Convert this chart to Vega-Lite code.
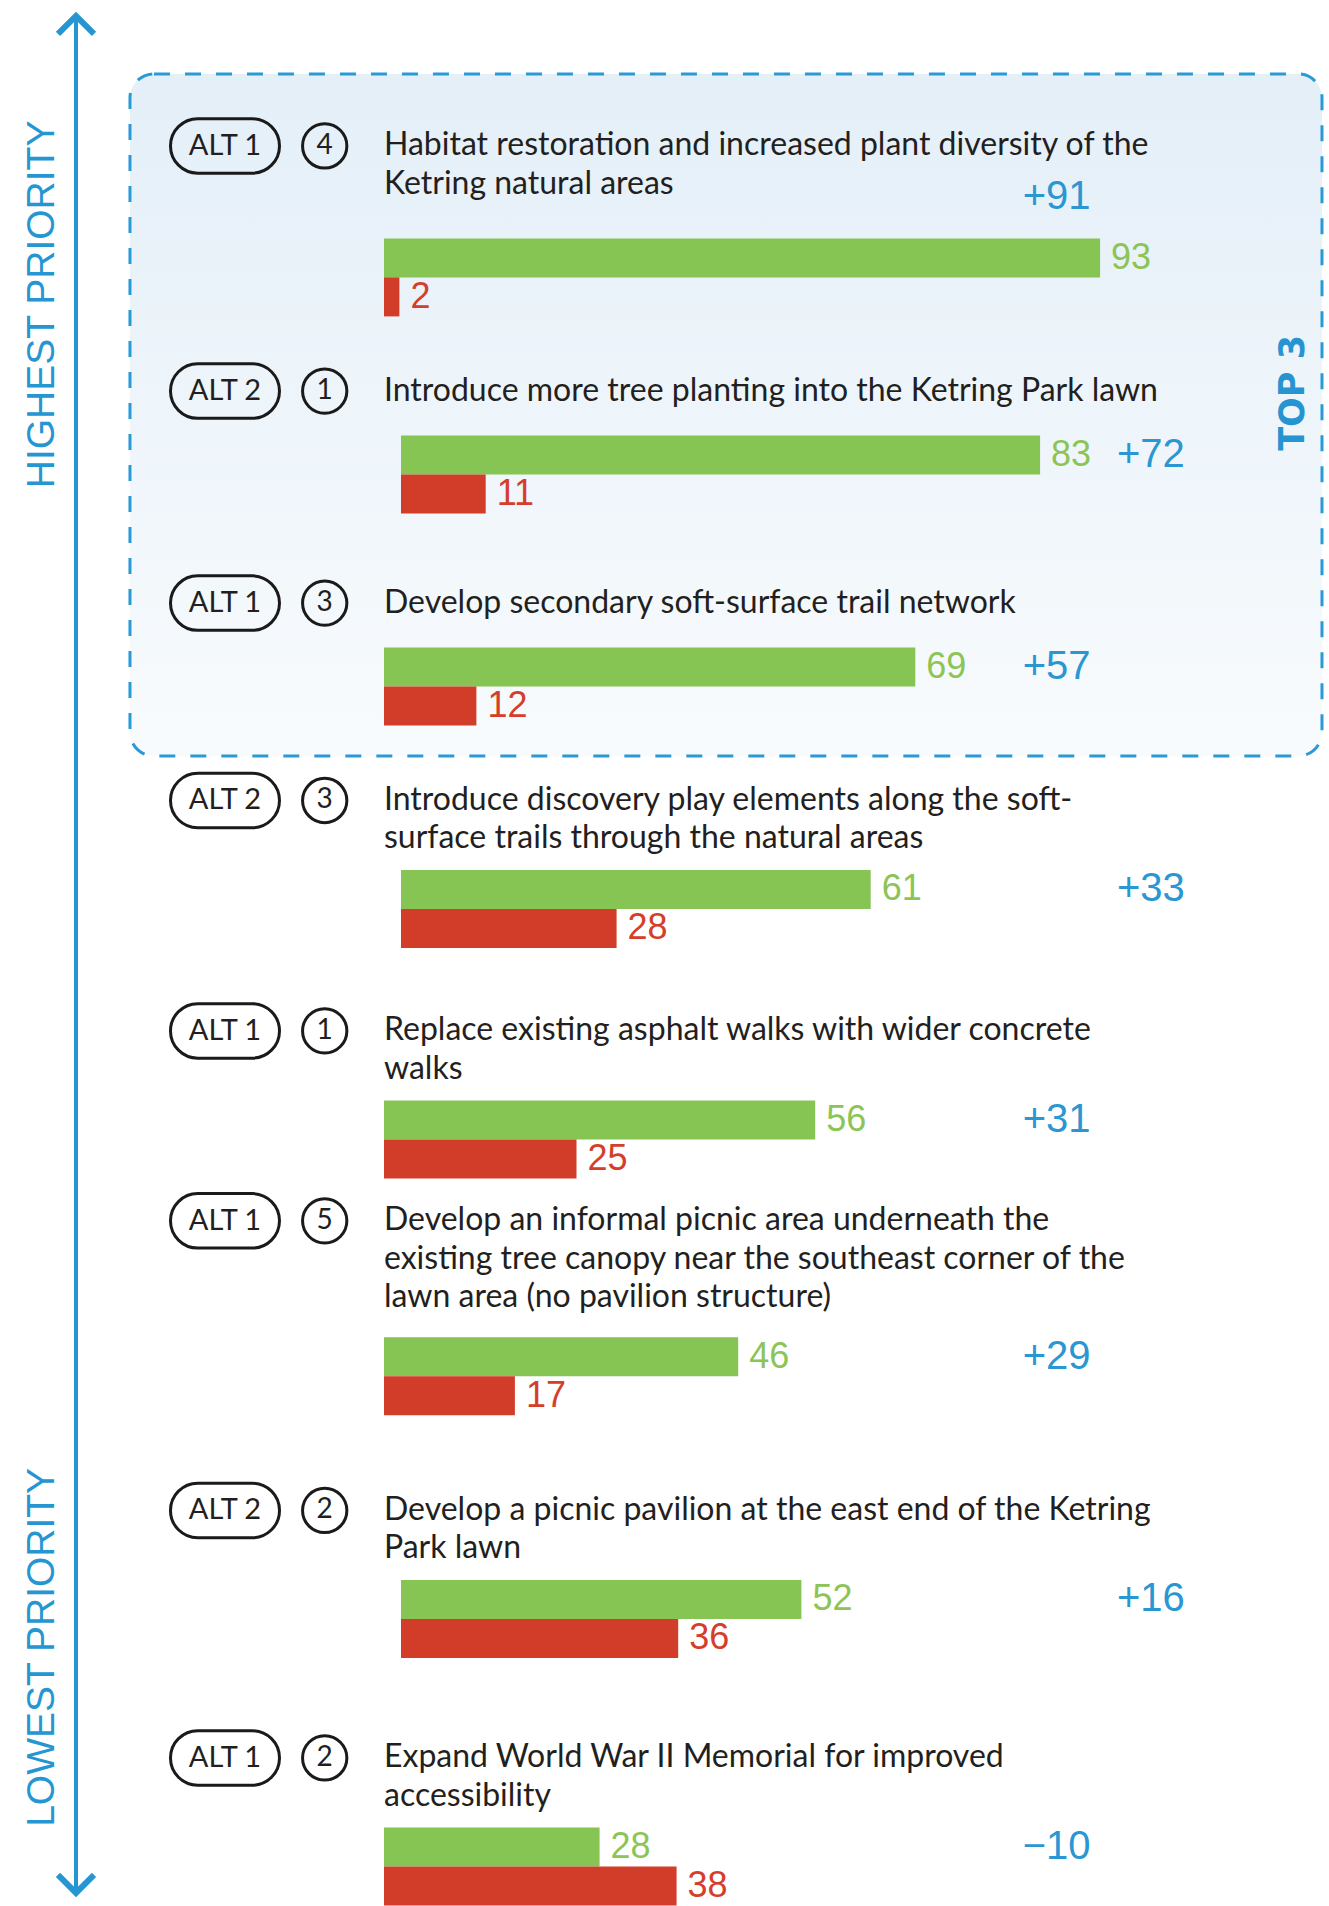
{
  "$schema": "https://vega.github.io/schema/vega-lite/v6.json",
  "width": 1329,
  "height": 1906,
  "autosize": {"type": "fit", "contains": "padding"},
  "padding": 0,
  "background": "#ffffff",
  "config": {"view": {"stroke": null}},
  "data": {
    "values": [
      {"rank": 1, "alt": "ALT 1", "num": 4, "title": ["Habitat restoration and increased plant diversity of the", "Ketring natural areas"], "support": 93, "oppose": 2, "net": 91},
      {"rank": 2, "alt": "ALT 2", "num": 1, "title": ["Introduce more tree planting into the Ketring Park lawn"], "support": 83, "oppose": 11, "net": 72},
      {"rank": 3, "alt": "ALT 1", "num": 3, "title": ["Develop secondary soft-surface trail network"], "support": 69, "oppose": 12, "net": 57},
      {"rank": 4, "alt": "ALT 2", "num": 3, "title": ["Introduce discovery play elements along the soft-", "surface trails through the natural areas"], "support": 61, "oppose": 28, "net": 33},
      {"rank": 5, "alt": "ALT 1", "num": 1, "title": ["Replace existing asphalt walks with wider concrete", "walks"], "support": 56, "oppose": 25, "net": 31},
      {"rank": 6, "alt": "ALT 1", "num": 5, "title": ["Develop an informal picnic area underneath the", "existing tree canopy near the southeast corner of the", "lawn area (no pavilion structure)"], "support": 46, "oppose": 17, "net": 29},
      {"rank": 7, "alt": "ALT 2", "num": 2, "title": ["Develop a picnic pavilion at the east end of the Ketring", "Park lawn"], "support": 52, "oppose": 36, "net": 16},
      {"rank": 8, "alt": "ALT 1", "num": 2, "title": ["Expand World War II Memorial for improved", "accessibility"], "support": 28, "oppose": 38, "net": -10}
    ]
  },
  "layer": [
    {
      "transform": [
        {"filter": "datum.rank <= 3"},
        {"aggregate": [{"op": "min", "field": "rank", "as": "first"}, {"op": "max", "field": "rank", "as": "last"}]}
      ],
      "mark": {
        "type": "rect",
        "fill": {"gradient": "linear", "x1": 0, "y1": 0, "x2": 0, "y2": 1, "stops": [{"offset": 0, "color": "#e4eff8"}, {"offset": 1, "color": "#f8fbfd"}]},
        "stroke": "#2a9ad6", "strokeWidth": 3, "strokeDash": [16, 15], "cornerRadius": 24,
        "yOffset": -184, "y2Offset": 89
      },
      "encoding": {
        "x": {"datum": -32.99, "type": "quantitative", "scale": {"domain": [-49.87, 122.73], "nice": false, "zero": false}, "axis": null},
        "x2": {"datum": 121.82},
        "y": {"field": "first", "type": "quantitative", "scale": {"type": "pow", "exponent": 1.14, "domain": [-0.5866, 8.216], "reverse": true, "nice": false, "zero": false}, "axis": null},
        "y2": {"field": "last"}
      }
    },
    {
      "data": {"values": [{"label": "TOP 3"}]},
      "mark": {"type": "text", "angle": 270, "font": "DejaVu Sans", "fontWeight": "bold", "fontSize": 35, "color": "#2694d0", "align": "center", "baseline": "middle"},
      "encoding": {
        "x": {"datum": 118.05, "type": "quantitative", "scale": {"domain": [-49.87, 122.73], "nice": false, "zero": false}, "axis": null},
        "y": {"datum": 1.6944, "type": "quantitative", "scale": {"type": "pow", "exponent": 1.14, "domain": [-0.5866, 8.216], "reverse": true, "nice": false, "zero": false}, "axis": null},
        "text": {"field": "label"}
      }
    },
    {
      "data": {"values": [{"axis": "priority"}]},
      "mark": {"type": "rule", "color": "#2696d3", "strokeWidth": 4},
      "encoding": {
        "x": {"datum": -40.0, "type": "quantitative", "scale": {"domain": [-49.87, 122.73], "nice": false, "zero": false}, "axis": null},
        "y": {"datum": -0.5345, "type": "quantitative", "scale": {"type": "pow", "exponent": 1.14, "domain": [-0.5866, 8.216], "reverse": true, "nice": false, "zero": false}, "axis": null},
        "y2": {"datum": 8.1915}
      }
    },
    {
      "data": {"values": [{"end": "highest"}]},
      "mark": {"type": "point", "shape": "M -1 0.7 L 0 -0.3 L 1 0.7", "size": 1296, "filled": false, "stroke": "#2696d3", "strokeWidth": 6, "strokeJoin": "miter", "opacity": 1},
      "encoding": {
        "x": {"datum": -40.0, "type": "quantitative", "scale": {"domain": [-49.87, 122.73], "nice": false, "zero": false}, "axis": null},
        "y": {"datum": -0.4914, "type": "quantitative", "scale": {"type": "pow", "exponent": 1.14, "domain": [-0.5866, 8.216], "reverse": true, "nice": false, "zero": false}, "axis": null}
      }
    },
    {
      "data": {"values": [{"end": "lowest"}]},
      "mark": {"type": "point", "shape": "M -1 -0.7 L 0 0.3 L 1 -0.7", "size": 1296, "filled": false, "stroke": "#2696d3", "strokeWidth": 6, "strokeJoin": "miter", "opacity": 1},
      "encoding": {
        "x": {"datum": -40.0, "type": "quantitative", "scale": {"domain": [-49.87, 122.73], "nice": false, "zero": false}, "axis": null},
        "y": {"datum": 8.1622, "type": "quantitative", "scale": {"type": "pow", "exponent": 1.14, "domain": [-0.5866, 8.216], "reverse": true, "nice": false, "zero": false}, "axis": null}
      }
    },
    {
      "data": {"values": [{"label": "HIGHEST PRIORITY"}]},
      "mark": {"type": "text", "angle": 270, "font": "Liberation Sans", "fontSize": 39, "color": "#2696d3", "align": "center", "baseline": "middle"},
      "encoding": {
        "x": {"datum": -44.4, "type": "quantitative", "scale": {"domain": [-49.87, 122.73], "nice": false, "zero": false}, "axis": null},
        "y": {"datum": 1.2451, "type": "quantitative", "scale": {"type": "pow", "exponent": 1.14, "domain": [-0.5866, 8.216], "reverse": true, "nice": false, "zero": false}, "axis": null},
        "text": {"field": "label"}
      }
    },
    {
      "data": {"values": [{"label": "LOWEST PRIORITY"}]},
      "mark": {"type": "text", "angle": 270, "font": "Liberation Sans", "fontSize": 39, "color": "#2696d3", "align": "center", "baseline": "middle"},
      "encoding": {
        "x": {"datum": -44.4, "type": "quantitative", "scale": {"domain": [-49.87, 122.73], "nice": false, "zero": false}, "axis": null},
        "y": {"datum": 7.1951, "type": "quantitative", "scale": {"type": "pow", "exponent": 1.14, "domain": [-0.5866, 8.216], "reverse": true, "nice": false, "zero": false}, "axis": null},
        "text": {"field": "label"}
      }
    },
    {
      "transform": [{"filter": "datum.alt == 'ALT 1' && datum.support >= 85"}],
      "encoding": {"y": {"field": "rank", "type": "quantitative", "scale": {"type": "pow", "exponent": 1.14, "domain": [-0.5866, 8.216], "reverse": true, "nice": false, "zero": false}, "axis": null}},
      "layer": [
        {"mark": {"type": "point", "shape": "M -0.5 -0.5 L 0.5 -0.5 A 0.5 0.5 0 0 1 0.5 0.5 L -0.5 0.5 A 0.5 0.5 0 0 1 -0.5 -0.5 Z", "size": 11881, "filled": false, "stroke": "#1a1a1a", "strokeWidth": 3, "opacity": 1, "yOffset": -112},
         "encoding": {"x": {"datum": -20.65, "type": "quantitative", "scale": {"domain": [-49.87, 122.73], "nice": false, "zero": false}, "axis": null}}},
        {"mark": {"type": "text", "font": "Lato", "fontSize": 29, "color": "#231f20", "align": "center", "baseline": "middle", "yOffset": -112},
         "encoding": {"x": {"datum": -20.65, "type": "quantitative", "scale": {"domain": [-49.87, 122.73], "nice": false, "zero": false}, "axis": null}, "text": {"field": "alt"}}},
        {"mark": {"type": "point", "shape": "circle", "size": 1963, "filled": false, "stroke": "#1a1a1a", "strokeWidth": 3, "opacity": 1, "yOffset": -112},
         "encoding": {"x": {"datum": -7.7, "type": "quantitative", "scale": {"domain": [-49.87, 122.73], "nice": false, "zero": false}, "axis": null}}},
        {"mark": {"type": "text", "font": "Lato", "fontSize": 28, "color": "#231f20", "align": "center", "baseline": "middle", "yOffset": -112},
         "encoding": {"x": {"datum": -7.7, "type": "quantitative", "scale": {"domain": [-49.87, 122.73], "nice": false, "zero": false}, "axis": null}, "text": {"field": "num"}}},
        {"mark": {"type": "text", "font": "Lato", "fontSize": 32, "lineHeight": 38.3, "color": "#231f20", "align": "left", "baseline": "top", "yOffset": -127.5},
         "encoding": {"x": {"datum": 0, "type": "quantitative", "scale": {"domain": [-49.87, 122.73], "nice": false, "zero": false}, "axis": null}, "text": {"field": "title"}}}
      ]
    },
    {
      "transform": [{"filter": "length(datum.title) == 1 && !(datum.alt == 'ALT 1' && datum.support >= 85)"}],
      "encoding": {"y": {"field": "rank", "type": "quantitative", "scale": {"type": "pow", "exponent": 1.14, "domain": [-0.5866, 8.216], "reverse": true, "nice": false, "zero": false}, "axis": null}},
      "layer": [
        {"mark": {"type": "point", "shape": "M -0.5 -0.5 L 0.5 -0.5 A 0.5 0.5 0 0 1 0.5 0.5 L -0.5 0.5 A 0.5 0.5 0 0 1 -0.5 -0.5 Z", "size": 11881, "filled": false, "stroke": "#1a1a1a", "strokeWidth": 3, "opacity": 1, "yOffset": -64},
         "encoding": {"x": {"datum": -20.65, "type": "quantitative", "scale": {"domain": [-49.87, 122.73], "nice": false, "zero": false}, "axis": null}}},
        {"mark": {"type": "text", "font": "Lato", "fontSize": 29, "color": "#231f20", "align": "center", "baseline": "middle", "yOffset": -64},
         "encoding": {"x": {"datum": -20.65, "type": "quantitative", "scale": {"domain": [-49.87, 122.73], "nice": false, "zero": false}, "axis": null}, "text": {"field": "alt"}}},
        {"mark": {"type": "point", "shape": "circle", "size": 1963, "filled": false, "stroke": "#1a1a1a", "strokeWidth": 3, "opacity": 1, "yOffset": -64},
         "encoding": {"x": {"datum": -7.7, "type": "quantitative", "scale": {"domain": [-49.87, 122.73], "nice": false, "zero": false}, "axis": null}}},
        {"mark": {"type": "text", "font": "Lato", "fontSize": 28, "color": "#231f20", "align": "center", "baseline": "middle", "yOffset": -64},
         "encoding": {"x": {"datum": -7.7, "type": "quantitative", "scale": {"domain": [-49.87, 122.73], "nice": false, "zero": false}, "axis": null}, "text": {"field": "num"}}},
        {"mark": {"type": "text", "font": "Lato", "fontSize": 32, "lineHeight": 38.3, "color": "#231f20", "align": "left", "baseline": "top", "yOffset": -79.5},
         "encoding": {"x": {"datum": 0, "type": "quantitative", "scale": {"domain": [-49.87, 122.73], "nice": false, "zero": false}, "axis": null}, "text": {"field": "title"}}}
      ]
    },
    {
      "transform": [{"filter": "length(datum.title) == 2 && !(datum.alt == 'ALT 1' && datum.support >= 85)"}],
      "encoding": {"y": {"field": "rank", "type": "quantitative", "scale": {"type": "pow", "exponent": 1.14, "domain": [-0.5866, 8.216], "reverse": true, "nice": false, "zero": false}, "axis": null}},
      "layer": [
        {"mark": {"type": "point", "shape": "M -0.5 -0.5 L 0.5 -0.5 A 0.5 0.5 0 0 1 0.5 0.5 L -0.5 0.5 A 0.5 0.5 0 0 1 -0.5 -0.5 Z", "size": 11881, "filled": false, "stroke": "#1a1a1a", "strokeWidth": 3, "opacity": 1, "yOffset": -89},
         "encoding": {"x": {"datum": -20.65, "type": "quantitative", "scale": {"domain": [-49.87, 122.73], "nice": false, "zero": false}, "axis": null}}},
        {"mark": {"type": "text", "font": "Lato", "fontSize": 29, "color": "#231f20", "align": "center", "baseline": "middle", "yOffset": -89},
         "encoding": {"x": {"datum": -20.65, "type": "quantitative", "scale": {"domain": [-49.87, 122.73], "nice": false, "zero": false}, "axis": null}, "text": {"field": "alt"}}},
        {"mark": {"type": "point", "shape": "circle", "size": 1963, "filled": false, "stroke": "#1a1a1a", "strokeWidth": 3, "opacity": 1, "yOffset": -89},
         "encoding": {"x": {"datum": -7.7, "type": "quantitative", "scale": {"domain": [-49.87, 122.73], "nice": false, "zero": false}, "axis": null}}},
        {"mark": {"type": "text", "font": "Lato", "fontSize": 28, "color": "#231f20", "align": "center", "baseline": "middle", "yOffset": -89},
         "encoding": {"x": {"datum": -7.7, "type": "quantitative", "scale": {"domain": [-49.87, 122.73], "nice": false, "zero": false}, "axis": null}, "text": {"field": "num"}}},
        {"mark": {"type": "text", "font": "Lato", "fontSize": 32, "lineHeight": 38.3, "color": "#231f20", "align": "left", "baseline": "top", "yOffset": -104.5},
         "encoding": {"x": {"datum": 0, "type": "quantitative", "scale": {"domain": [-49.87, 122.73], "nice": false, "zero": false}, "axis": null}, "text": {"field": "title"}}}
      ]
    },
    {
      "transform": [{"filter": "length(datum.title) == 3 && !(datum.alt == 'ALT 1' && datum.support >= 85)"}],
      "encoding": {"y": {"field": "rank", "type": "quantitative", "scale": {"type": "pow", "exponent": 1.14, "domain": [-0.5866, 8.216], "reverse": true, "nice": false, "zero": false}, "axis": null}},
      "layer": [
        {"mark": {"type": "point", "shape": "M -0.5 -0.5 L 0.5 -0.5 A 0.5 0.5 0 0 1 0.5 0.5 L -0.5 0.5 A 0.5 0.5 0 0 1 -0.5 -0.5 Z", "size": 11881, "filled": false, "stroke": "#1a1a1a", "strokeWidth": 3, "opacity": 1, "yOffset": -136},
         "encoding": {"x": {"datum": -20.65, "type": "quantitative", "scale": {"domain": [-49.87, 122.73], "nice": false, "zero": false}, "axis": null}}},
        {"mark": {"type": "text", "font": "Lato", "fontSize": 29, "color": "#231f20", "align": "center", "baseline": "middle", "yOffset": -136},
         "encoding": {"x": {"datum": -20.65, "type": "quantitative", "scale": {"domain": [-49.87, 122.73], "nice": false, "zero": false}, "axis": null}, "text": {"field": "alt"}}},
        {"mark": {"type": "point", "shape": "circle", "size": 1963, "filled": false, "stroke": "#1a1a1a", "strokeWidth": 3, "opacity": 1, "yOffset": -136},
         "encoding": {"x": {"datum": -7.7, "type": "quantitative", "scale": {"domain": [-49.87, 122.73], "nice": false, "zero": false}, "axis": null}}},
        {"mark": {"type": "text", "font": "Lato", "fontSize": 28, "color": "#231f20", "align": "center", "baseline": "middle", "yOffset": -136},
         "encoding": {"x": {"datum": -7.7, "type": "quantitative", "scale": {"domain": [-49.87, 122.73], "nice": false, "zero": false}, "axis": null}, "text": {"field": "num"}}},
        {"mark": {"type": "text", "font": "Lato", "fontSize": 32, "lineHeight": 38.3, "color": "#231f20", "align": "left", "baseline": "top", "yOffset": -151.5},
         "encoding": {"x": {"datum": 0, "type": "quantitative", "scale": {"domain": [-49.87, 122.73], "nice": false, "zero": false}, "axis": null}, "text": {"field": "title"}}}
      ]
    },
    {
      "transform": [{"filter": "datum.alt == 'ALT 1'"}],
      "encoding": {"y": {"field": "rank", "type": "quantitative", "scale": {"type": "pow", "exponent": 1.14, "domain": [-0.5866, 8.216], "reverse": true, "nice": false, "zero": false}, "axis": null}},
      "layer": [
        {
          "mark": {"type": "bar", "orient": "horizontal", "height": 39, "color": "#86c453"},
          "encoding": {"x": {"field": "support", "type": "quantitative", "scale": {"domain": [-49.87, 122.73], "nice": false, "zero": false}, "axis": null}}
        },
        {
          "mark": {"type": "bar", "orient": "horizontal", "height": 39, "color": "#d13d28", "yOffset": 39},
          "encoding": {"x": {"field": "oppose", "type": "quantitative", "scale": {"domain": [-49.87, 122.73], "nice": false, "zero": false}, "axis": null}}
        },
        {
          "mark": {"type": "text", "align": "left", "baseline": "middle", "dx": 11, "font": "Liberation Sans", "fontSize": 36, "color": "#8cc456"},
          "encoding": {"x": {"field": "support", "type": "quantitative", "scale": {"domain": [-49.87, 122.73], "nice": false, "zero": false}, "axis": null}, "text": {"field": "support", "type": "quantitative"}}
        },
        {
          "mark": {"type": "text", "align": "left", "baseline": "middle", "dx": 11, "font": "Liberation Sans", "fontSize": 36, "color": "#d43e2a", "yOffset": 39},
          "encoding": {"x": {"field": "oppose", "type": "quantitative", "scale": {"domain": [-49.87, 122.73], "nice": false, "zero": false}, "axis": null}, "text": {"field": "oppose", "type": "quantitative"}}
        },
        {
          "transform": [{"filter": "datum.support < 85"}],
          "mark": {"type": "text", "align": "center", "baseline": "middle", "font": "Liberation Sans", "fontSize": 40, "color": "#2a96d2"},
          "encoding": {"x": {"datum": 87.36, "type": "quantitative", "scale": {"domain": [-49.87, 122.73], "nice": false, "zero": false}, "axis": null}, "text": {"field": "net", "type": "quantitative", "format": "+d"}}
        },
        {
          "transform": [{"filter": "datum.support >= 85"}],
          "mark": {"type": "text", "align": "center", "baseline": "middle", "font": "Liberation Sans", "fontSize": 40, "color": "#2a96d2", "yOffset": -61},
          "encoding": {"x": {"datum": 87.36, "type": "quantitative", "scale": {"domain": [-49.87, 122.73], "nice": false, "zero": false}, "axis": null}, "text": {"field": "net", "type": "quantitative", "format": "+d"}}
        }
      ]
    },
    {
      "transform": [{"filter": "datum.alt == 'ALT 2'"}],
      "encoding": {"y": {"field": "rank", "type": "quantitative", "scale": {"type": "pow", "exponent": 1.14, "domain": [-0.5866, 8.216], "reverse": true, "nice": false, "zero": false}, "axis": null}},
      "layer": [
        {
          "mark": {"type": "bar", "orient": "horizontal", "height": 39, "color": "#86c453", "xOffset": 17, "x2Offset": 17},
          "encoding": {"x": {"field": "support", "type": "quantitative", "scale": {"domain": [-49.87, 122.73], "nice": false, "zero": false}, "axis": null}}
        },
        {
          "mark": {"type": "bar", "orient": "horizontal", "height": 39, "color": "#d13d28", "yOffset": 39, "xOffset": 17, "x2Offset": 17},
          "encoding": {"x": {"field": "oppose", "type": "quantitative", "scale": {"domain": [-49.87, 122.73], "nice": false, "zero": false}, "axis": null}}
        },
        {
          "mark": {"type": "text", "align": "left", "baseline": "middle", "dx": 28, "font": "Liberation Sans", "fontSize": 36, "color": "#8cc456"},
          "encoding": {"x": {"field": "support", "type": "quantitative", "scale": {"domain": [-49.87, 122.73], "nice": false, "zero": false}, "axis": null}, "text": {"field": "support", "type": "quantitative"}}
        },
        {
          "mark": {"type": "text", "align": "left", "baseline": "middle", "dx": 28, "font": "Liberation Sans", "fontSize": 36, "color": "#d43e2a", "yOffset": 39},
          "encoding": {"x": {"field": "oppose", "type": "quantitative", "scale": {"domain": [-49.87, 122.73], "nice": false, "zero": false}, "axis": null}, "text": {"field": "oppose", "type": "quantitative"}}
        },
        {
          "mark": {"type": "text", "align": "center", "baseline": "middle", "font": "Liberation Sans", "fontSize": 40, "color": "#2a96d2"},
          "encoding": {"x": {"datum": 99.6, "type": "quantitative", "scale": {"domain": [-49.87, 122.73], "nice": false, "zero": false}, "axis": null}, "text": {"field": "net", "type": "quantitative", "format": "+d"}}
        }
      ]
    }
  ]
}
